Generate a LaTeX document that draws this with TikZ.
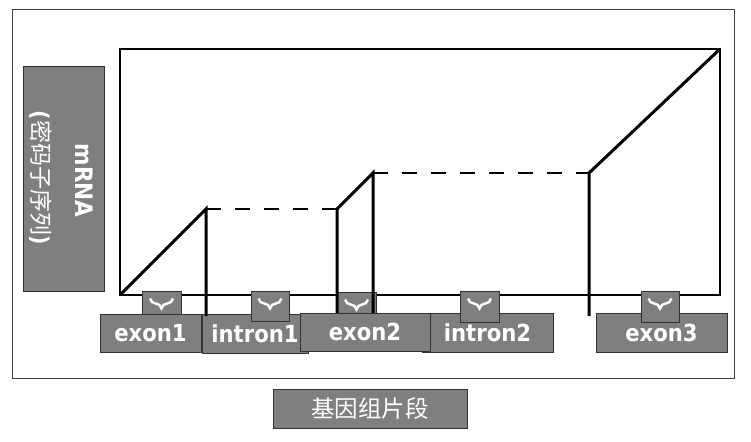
\documentclass[tikz,border=0pt]{standalone}
\usepackage{fontspec}
\newfontfamily\labfont[FakeStretch=0.9]{DejaVu Sans}
\newfontfamily\cjk{Noto Sans CJK SC}
\usetikzlibrary{calc,decorations.pathreplacing}
\definecolor{boxgray}{HTML}{7F7F7F}
\definecolor{boxedge}{HTML}{333333}
\definecolor{framegray}{HTML}{404040}
\tikzset{
  graybox/.style={draw=boxedge, line width=1pt, fill=boxgray, inner sep=0pt, text=white},
  labbox/.style={graybox, font=\labfont\bfseries\fontsize{23.5}{27}\selectfont},
  bracebox/.style={graybox},
  bracemark/.style={draw=white, line width=2.4pt, decorate, decoration={brace, amplitude=10pt, mirror}},
  thickline/.style={line width=3pt, line join=miter},
  dashline/.style={line width=2.2pt, dash pattern=on 15pt off 14pt},
}
\begin{document}
\begin{tikzpicture}[x=1pt,y=-1pt]
\useasboundingbox (0,0) rectangle (751,441);
\fill[white] (0,0) rectangle (751,441);
% frames
\draw[framegray, line width=1pt] (12,10) rectangle (734,378);
\draw[black, line width=1.5pt] (120,49) rectangle (720,295);
% mRNA box
\node[graybox, minimum width=81pt, minimum height=224pt] (mbox) at (63.5,179) {};
\node[rotate=-90, text=white, font=\labfont\bfseries\fontsize{24}{28}\selectfont] (mtxt) at (84.5,180.5) {mRNA};
\node[rotate=-90, text=white, font=\cjk\fontsize{23}{26}\selectfont] (ctxt) at (40.5,177.5) {{\labfont\bfseries(}密码子序列{\labfont\bfseries)}};
% label boxes
\node[labbox, minimum width=106pt, minimum height=39pt] (in1) at (255,333.5) {intron1};
\node[labbox, minimum width=101pt, minimum height=38pt] (ex1) at (150.5,333) {exon1};
\node[labbox, minimum width=131pt, minimum height=39pt] (in2) at (487.5,332.5) {intron2};
\node[labbox, minimum width=130pt, minimum height=38pt] (ex2) at (365,332) {exon2};
\node[labbox, minimum width=131pt, minimum height=39pt] (ex3) at (661.5,332.5) {exon3};
% brace boxes
\node[bracebox, minimum width=39pt, minimum height=23pt] (b1) at (161.5,302.5) {};
\node[bracebox, minimum width=38pt, minimum height=30pt] (b2) at (270,306) {};
\node[bracebox, minimum width=39pt, minimum height=21pt] (b3) at (356.5,302.5) {};
\node[bracebox, minimum width=39pt, minimum height=31pt] (b4) at (479.5,306.5) {};
\node[bracebox, minimum width=38pt, minimum height=31pt] (b5) at (660,306.5) {};
\foreach \b in {b1,b2,b3,b4,b5}{
  \draw[bracemark] ($(\b.north)+(-11.5,8)$) -- ($(\b.north)+(11.5,8)$);
}
% curve
\coordinate (p0) at (120,295);
\coordinate (p1) at (206,209);
\coordinate (p1b) at (206,316);
\coordinate (p2) at (337,209);
\coordinate (p2b) at (337,313);
\coordinate (p3) at (373,173);
\coordinate (p3b) at (373,313);
\coordinate (p4) at (589,173);
\coordinate (p4b) at (589,316);
\coordinate (p5) at (720,49);
\draw[thickline] (p0) -- (p1) -- (p1b);
\draw[dashline] (p1) -- (p2);
\draw[thickline] (p2b) -- (p2) -- (p3) -- (p3b);
\draw[dashline] (p3) -- (p4);
\draw[thickline] (p4b) -- (p4) -- (p5);
% bottom caption
\node[graybox, minimum width=194pt, minimum height=39pt, font=\cjk\fontsize{23.5}{27}\selectfont] (cap) at (370,408.5) {基因组片段};
\end{tikzpicture}
\end{document}
